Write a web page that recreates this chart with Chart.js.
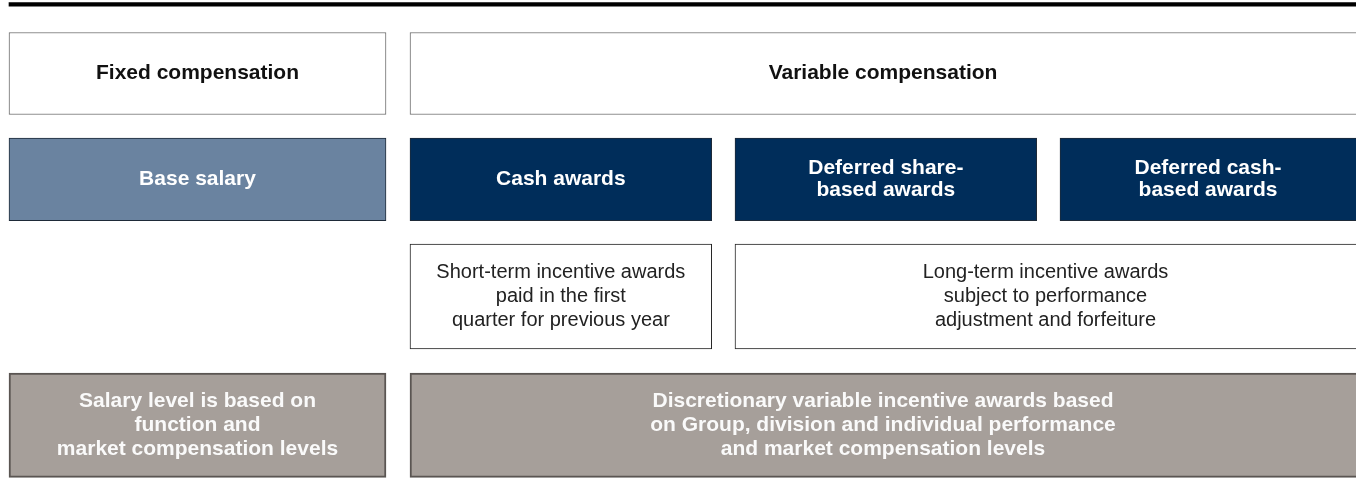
<!DOCTYPE html>
<html>
<head>
<meta charset="utf-8">
<script src="https://cdn.jsdelivr.net/npm/chart.js@4/dist/chart.umd.min.js"></script>
<style>
  html, body { margin: 0; padding: 0; background: #ffffff; }
  #wrap { width: 1356px; height: 495px; position: relative; }
</style>
</head>
<body>
<div id="wrap"><canvas id="c" width="1356" height="495"></canvas></div>
<script>
// ---- Data (diagram layout values, in canvas units) ----
const rowNames   = ["rule", "header", "component", "horizon", "basis"];
const rowTop     = [2.7, 32.5, 138, 244, 373];
const rowBottom  = [6.2, 114.5, 220.7, 349, 477.3];

const ruleStart  = [9];
const ruleEnd    = [1360];
const ruleLabels = [""];

const headerStart  = [9, 410];
const headerEnd    = [386, 1360];
const headerLabels = ["Fixed compensation", "Variable compensation"];

const componentStart  = [9, 410, 735, 1060];
const componentEnd    = [386, 711.7, 1036.7, 1360];
const componentLabels = ["Base salary", "Cash awards", "Deferred share-\nbased awards", "Deferred cash-\nbased awards"];

const horizonStart  = [410, 735];
const horizonEnd    = [711.7, 1360];
const horizonLabels = [
  "Short-term incentive awards\npaid in the first\nquarter for previous year",
  "Long-term incentive awards\nsubject to performance\nadjustment and forfeiture"
];

const basisStart  = [9, 410];
const basisEnd    = [386, 1360];
const basisLabels = [
  "Salary level is based on\nfunction and\nmarket compensation levels",
  "Discretionary variable incentive awards based\non Group, division and individual performance\nand market compensation levels"
];

// ---- Styles ----
const NAVY = "#002d5a", STEEL = "#6a83a0", TAUPE = "#a69f9a";
const rowStyles = [
  { fill: ["#000000"], border: "#000000", bw: 0, font: "bold 21px 'Liberation Sans', Arial, sans-serif", color: "#000", lh: 22 },
  { fill: ["#ffffff", "#ffffff"], border: "#6a6a6a", bw: 1, font: "bold 21px 'Liberation Sans', Arial, sans-serif", color: "#111111", lh: 22 },
  { fill: [STEEL, NAVY, NAVY, NAVY], border: "#1e2a38", bw: 1, font: "bold 21px 'Liberation Sans', Arial, sans-serif", color: "#ffffff", lh: 22 },
  { fill: ["#ffffff", "#ffffff"], border: "#222222", bw: 1, font: "20px 'Liberation Sans', Arial, sans-serif", color: "#222222", lh: 24 },
  { fill: [TAUPE, TAUPE], border: "#5a5552", bw: 2, font: "bold 21px 'Liberation Sans', Arial, sans-serif", color: "#fafafa", lh: 24 }
];

const rowStarts = [ruleStart, headerStart, componentStart, horizonStart, basisStart];
const rowEnds   = [ruleEnd, headerEnd, componentEnd, horizonEnd, basisEnd];
const rowLabels = [ruleLabels, headerLabels, componentLabels, horizonLabels, basisLabels];

const datasets = rowNames.map((name, r) => ({
  label: name,
  data: rowStarts[r].map((s, i) => ({ x: [s, rowEnds[r][i]], y: (rowTop[r] + rowBottom[r]) / 2 })),
  backgroundColor: rowStyles[r].fill,
  borderColor: rowStyles[r].border,
  borderWidth: rowStyles[r].bw,
  borderSkipped: false,
  barThickness: rowBottom[r] - rowTop[r],
  grouped: false
}));

const labelPlugin = {
  id: "boxLabels",
  afterDatasetsDraw(chart) {
    const ctx = chart.ctx;
    const area = chart.chartArea;
    chart.data.datasets.forEach((ds, r) => {
      const meta = chart.getDatasetMeta(r);
      const st = rowStyles[r];
      meta.data.forEach((el, i) => {
        const text = rowLabels[r][i];
        if (!text) return;
        const p = el.getProps(["x", "y", "base"], true);
        const left = Math.max(Math.min(p.x, p.base), area.left);
        const right = Math.min(Math.max(p.x, p.base), area.right);
        const cx = (left + right) / 2;
        const lines = text.split("\n");
        ctx.save();
        ctx.font = st.font;
        ctx.fillStyle = st.color;
        ctx.textAlign = "center";
        ctx.textBaseline = "middle";
        const y0 = p.y - (lines.length - 1) * st.lh / 2;
        lines.forEach((ln, k) => ctx.fillText(ln, cx, y0 + k * st.lh));
        ctx.restore();
      });
    });
  }
};

new Chart(document.getElementById("c"), {
  type: "bar",
  data: { datasets },
  options: {
    indexAxis: "y",
    responsive: false,
    animation: false,
    layout: { padding: 0 },
    plugins: { legend: { display: false }, tooltip: { enabled: false } },
    scales: {
      x: { type: "linear", min: 0, max: 1356, offset: false, display: false },
      y: { type: "linear", min: 0, max: 495, reverse: true, offset: false, display: false }
    }
  },
  plugins: [labelPlugin]
});
</script>
</body>
</html>
